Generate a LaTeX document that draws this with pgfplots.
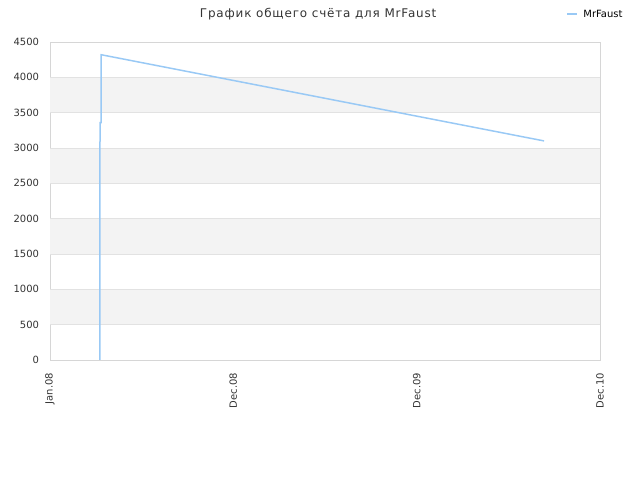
\documentclass[border=0pt]{standalone}
\usepackage{pgfplots}
\pgfplotsset{compat=1.18}
\usepackage{fontspec}
\setmainfont{DejaVu Sans}
\definecolor{band}{HTML}{F3F3F3}
\definecolor{gridc}{HTML}{E2E2E2}
\definecolor{axc}{HTML}{D6D6D6}
\definecolor{txt}{HTML}{333333}
\definecolor{linec}{HTML}{99C9F5}
\begin{document}
\begin{tikzpicture}
\begin{axis}[
  at={(50bp,120bp)}, anchor=south west,
  scale only axis, width=550bp, height=318bp,
  xmin=0, xmax=3, ymin=0, ymax=4500,
  xtick={0,1,2,3}, xticklabels={Jan.08,Dec.08,Dec.09,Dec.10},
  ytick={0,500,...,4500},
  x tick label style={rotate=90, anchor=east, font=\fontsize{10}{12}\selectfont, text=txt},
  y tick label style={font=\fontsize{10}{12}\selectfont, text=txt},
  xticklabel shift=9.5bp, yticklabel shift=7.5bp,
  yticklabel style={/pgf/number format/assume math mode=true, /pgf/number format/set thousands separator={}},
  major tick length=0pt,
  axis line style={axc, line width=0.8pt},
  xtick pos=bottom, ytick pos=left,
  title={\addfontfeature{LetterSpace=7}График общего счёта для MrFaust},
  every axis title shift=0pt,
  title style={at={(0.4875,1.089)}, anchor=center, font=\fontsize{12}{14}\selectfont, text=txt},
  legend style={at={(0.9382,1.087)}, anchor=west, draw=none, fill=none, inner sep=0pt, font=\fontsize{10}{12}\selectfont, text=black},
  legend image code/.code={\draw[linec, line width=2bp] (0bp,0bp) -- (10bp,0bp); \path (13.5bp,0bp);},
]
\addplot[fill=band, draw=none, forget plot] coordinates {(0,500) (3,500) (3,1000) (0,1000)} -- cycle;
\addplot[fill=band, draw=none, forget plot] coordinates {(0,1500) (3,1500) (3,2000) (0,2000)} -- cycle;
\addplot[fill=band, draw=none, forget plot] coordinates {(0,2500) (3,2500) (3,3000) (0,3000)} -- cycle;
\addplot[fill=band, draw=none, forget plot] coordinates {(0,3500) (3,3500) (3,4000) (0,4000)} -- cycle;
\foreach \g in {500,1000,...,4000} {
  \addplot[gridc, line width=0.8pt, forget plot] coordinates {(0,\g) (3,\g)};
}
\addplot[linec, line width=1.5bp] coordinates {
(0.272,0) (0.272,540) (0.272,2380) (0.273,3360) (0.279,3360) (0.279,4320) (2.695,3100)
};
\addlegendentry{MrFaust}
\end{axis}
\useasboundingbox (0,0) rectangle (640bp,480bp);
\end{tikzpicture}
\end{document}
